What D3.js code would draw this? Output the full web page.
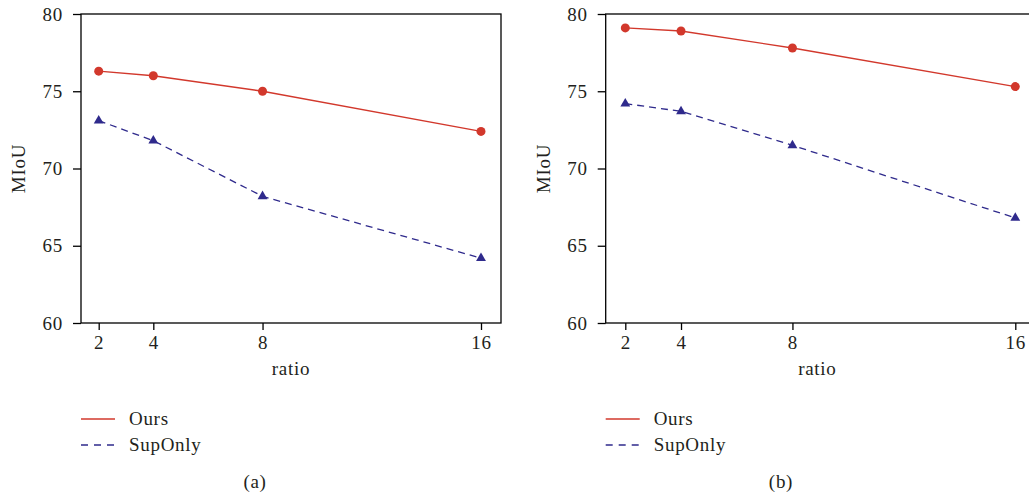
<!DOCTYPE html>
<html>
<head>
<meta charset="utf-8">
<script src="https://cdn.jsdelivr.net/npm/d3@7"></script>
<style>
  html, body { margin: 0; padding: 0; background: #fff; }
  svg { display: block; }
  text { font-family: "Liberation Serif", "DejaVu Serif", serif; fill: #231f20; letter-spacing: 0.7px; }
</style>
</head>
<body>
<svg id="chart" width="1029" height="496"></svg>
<script>
const ratios = [2, 4, 8, 16];
const yTicks = [60, 65, 70, 75, 80];
const seriesNames = ["Ours", "SupOnly"];
const oursA = [76.3, 76.0, 75.0, 72.4];
const supOnlyA = [73.1, 71.8, 68.2, 64.2];
const oursB = [79.1, 78.9, 77.8, 75.3];
const supOnlyB = [74.2, 73.7, 71.5, 66.8];
const panelLabels = ["(a)", "(b)"];

const RED = "#d2382c";
const NAVY = "#2f2a8c";
const FS = 19;

const svg = d3.select("#chart");

const panels = [
  { left: 81, right: 501, x2: 98.7, x16: 481, ours: oursA, sup: supOnlyA, label: panelLabels[0], labelX: 255 },
  { left: 605.7, right: 1031, x2: 625.3, x16: 1015.3, ours: oursB, sup: supOnlyB, label: panelLabels[1], labelX: 781 }
];
const plotTop = 14, plotBottom = 323;

panels.forEach(p => {
  const g = svg.append("g");
  const x = d3.scaleLinear().domain([2, 16]).range([p.x2, p.x16]);
  const y = d3.scaleLinear().domain([60, 80]).range([plotBottom, plotTop]);

  // frame
  g.append("rect")
    .attr("x", p.left).attr("y", plotTop)
    .attr("width", p.right - p.left).attr("height", plotBottom - plotTop)
    .attr("fill", "none").attr("stroke", "#000").attr("stroke-width", 1.3);

  // y axis
  const ya = g.append("g").attr("transform", `translate(${p.left},0)`)
    .call(d3.axisLeft(y).tickValues(yTicks).tickSize(8).tickSizeOuter(0).tickPadding(10));
  ya.select(".domain").remove();
  ya.selectAll("line").attr("stroke", "#000").attr("stroke-width", 1.3);
  ya.selectAll("text").style("font-family", "Liberation Serif, serif").style("font-size", FS + "px").attr("fill", "#231f20");

  // x axis
  const xa = g.append("g").attr("transform", `translate(0,${plotBottom})`)
    .call(d3.axisBottom(x).tickValues(ratios).tickSize(7).tickSizeOuter(0).tickPadding(6));
  xa.select(".domain").remove();
  xa.selectAll("line").attr("stroke", "#000").attr("stroke-width", 1.3);
  xa.selectAll("text").style("font-family", "Liberation Serif, serif").style("font-size", FS + "px").attr("fill", "#231f20");

  // axis titles
  g.append("text").attr("x", (p.left + Math.min(p.right, 1029)) / 2).attr("y", 375)
    .attr("text-anchor", "middle").style("font-size", FS + "px").text("ratio");
  g.append("text").attr("transform", `translate(${p.left - 56},${(plotTop + plotBottom) / 2}) rotate(-90)`)
    .attr("text-anchor", "middle").style("font-size", FS + "px").text("MIoU");

  const line = d3.line().x((d, i) => x(ratios[i])).y(d => y(d));

  g.append("path").datum(p.ours).attr("d", line)
    .attr("fill", "none").attr("stroke", RED).attr("stroke-width", 1.4);
  g.append("path").datum(p.sup).attr("d", line)
    .attr("fill", "none").attr("stroke", NAVY).attr("stroke-width", 1.3).attr("stroke-dasharray", "7,5");

  g.selectAll(".ours").data(p.ours).join("circle")
    .attr("cx", (d, i) => x(ratios[i])).attr("cy", d => y(d)).attr("r", 4.5).attr("fill", RED);
  g.selectAll(".sup").data(p.sup).join("path")
    .attr("d", d3.symbol().type(d3.symbolTriangle).size(42))
    .attr("transform", (d, i) => `translate(${x(ratios[i])},${y(d)})`)
    .attr("fill", NAVY);

  // legend
  const lx = p.left;
  g.append("line").attr("x1", lx).attr("x2", lx + 34).attr("y1", 419).attr("y2", 419)
    .attr("stroke", RED).attr("stroke-width", 1.4);
  g.append("line").attr("x1", lx).attr("x2", lx + 34).attr("y1", 445).attr("y2", 445)
    .attr("stroke", NAVY).attr("stroke-width", 1.3).attr("stroke-dasharray", "7,6");
  g.append("text").attr("x", lx + 48).attr("y", 425).style("font-size", FS + "px").text(seriesNames[0]);
  g.append("text").attr("x", lx + 48).attr("y", 451).style("font-size", FS + "px").text(seriesNames[1]);

  g.append("text").attr("x", p.labelX).attr("y", 488).attr("text-anchor", "middle")
    .style("font-size", FS + "px").text(p.label);
});
</script>
</body>
</html>
